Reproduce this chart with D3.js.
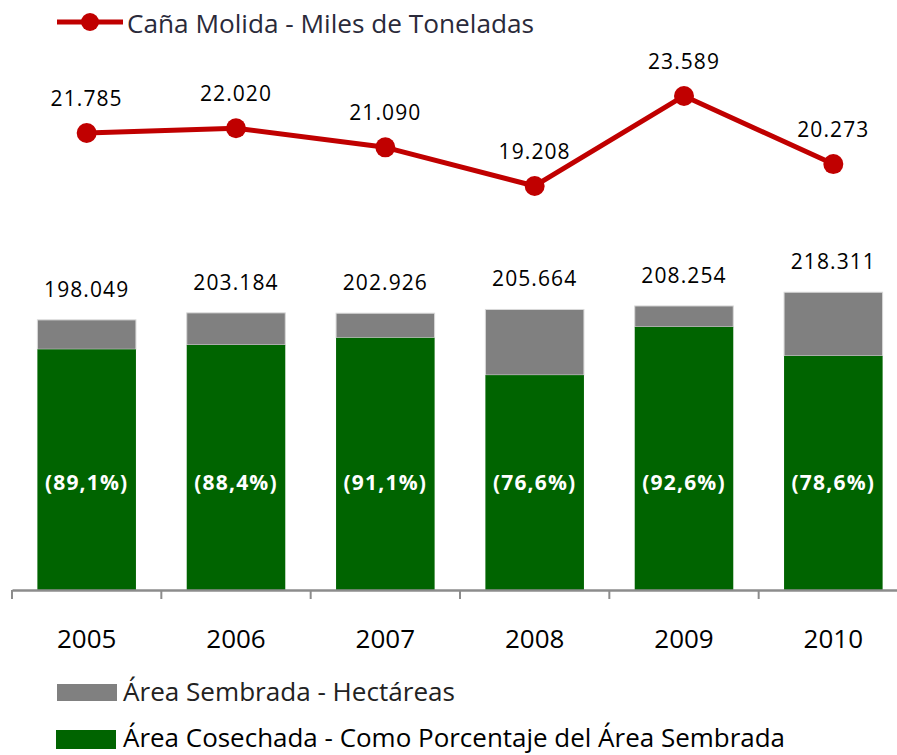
<!DOCTYPE html>
<html><head><meta charset="utf-8">
<script src="https://cdn.jsdelivr.net/npm/d3@7/dist/d3.min.js"></script>
<style>body{margin:0;background:#fff}svg{display:block}</style>
</head><body>
<svg id="chart" width="897" height="755"></svg>
<script>
const years = ["2005","2006","2007","2008","2009","2010"];
const areaSembrada = [198049, 203184, 202926, 205664, 208254, 218311];
const pctCosechada = [89.1, 88.4, 91.1, 76.6, 92.6, 78.6];
const canaMolida = [21785, 22020, 21090, 19208, 23589, 20273];
const legendLine = "Caña Molida - Miles de Toneladas";
const legendGray = "Área Sembrada - Hectáreas";
const legendGreen = "Área Cosechada - Como Porcentaje del Área Sembrada";

const fmt = v => d3.format(",")(v).replace(/,/g, ".");
const fmtPct = v => "(" + v.toFixed(1).replace(".", ",") + "%)";

const svg = d3.select("#chart");
const GREEN = "#006400", GRAY = "#808080", RED = "#C00000";
const font = "'Open Sans', sans-serif";

const x = d3.scaleBand().domain(years).range([12, 908]).padding(0);
const barW = x.bandwidth() * 0.66;
const yBar = d3.scaleLinear().domain([0, 250000]).range([590, 249]);
const yLine = d3.scaleLinear().domain([0, 25000]).range([580.5, 67]);

const data = years.map((y, i) => ({
  year: y, total: areaSembrada[i], pct: pctCosechada[i],
  harvested: areaSembrada[i] * pctCosechada[i] / 100, cane: canaMolida[i]
}));

// gray (sown area) bars
svg.append("g").selectAll("rect").data(data).join("rect")
  .attr("x", d => x(d.year) + (x.bandwidth() - barW) / 2)
  .attr("width", barW)
  .attr("y", d => yBar(d.total))
  .attr("height", d => yBar(d.harvested) - yBar(d.total))
  .attr("fill", GRAY).attr("stroke", "#d9d9d9").attr("stroke-width", 1);

// green (harvested) bars
svg.append("g").selectAll("rect").data(data).join("rect")
  .attr("x", d => x(d.year) + (x.bandwidth() - barW) / 2)
  .attr("width", barW)
  .attr("y", d => yBar(d.harvested))
  .attr("height", d => yBar(0) - yBar(d.harvested))
  .attr("fill", GREEN);

// axis
const axis = d3.axisBottom(x).tickSize(0).tickFormat(d => d).tickPadding(38);
const gAxis = svg.append("g").attr("transform", `translate(0,${yBar(0)})`).call(axis);
gAxis.select(".domain").attr("stroke", "#8c8c8c").attr("stroke-width", 2.5);
gAxis.selectAll(".tick text").attr("font-family", font).attr("font-size", 26).attr("fill", "#000")
  .attr("dy", "0.75em");
// category boundary ticks
svg.append("g").selectAll("line").data(years).join("line")
  .attr("x1", d => x(d)).attr("x2", d => x(d))
  .attr("y1", yBar(0)).attr("y2", yBar(0) + 9)
  .attr("stroke", "#8c8c8c").attr("stroke-width", 2);

// total labels
svg.append("g").selectAll("text").data(data).join("text")
  .attr("x", d => x(d.year) + x.bandwidth() / 2)
  .attr("y", d => yBar(d.total) - 23)
  .attr("text-anchor", "middle").attr("font-family", font).attr("font-size", 21)
  .attr("letter-spacing", 1.1).attr("fill", "#000")
  .text(d => fmt(d.total));

// percentage labels
svg.append("g").selectAll("text").data(data).join("text")
  .attr("x", d => x(d.year) + x.bandwidth() / 2)
  .attr("y", 490)
  .attr("text-anchor", "middle").attr("font-family", font).attr("font-size", 21)
  .attr("font-weight", "bold").attr("letter-spacing", 1.2).attr("fill", "#fff")
  .text(d => fmtPct(d.pct));

// line
const line = d3.line().x(d => x(d.year) + x.bandwidth() / 2).y(d => yLine(d.cane));
svg.append("path").datum(data).attr("d", line)
  .attr("fill", "none").attr("stroke", RED).attr("stroke-width", 5).attr("stroke-linejoin", "round");
svg.append("g").selectAll("circle").data(data).join("circle")
  .attr("cx", d => x(d.year) + x.bandwidth() / 2).attr("cy", d => yLine(d.cane))
  .attr("r", 10).attr("fill", RED);
svg.append("g").selectAll("text").data(data).join("text")
  .attr("x", d => x(d.year) + x.bandwidth() / 2)
  .attr("y", d => yLine(d.cane) - 27)
  .attr("text-anchor", "middle").attr("font-family", font).attr("font-size", 21)
  .attr("letter-spacing", 1.1).attr("fill", "#000")
  .text(d => fmt(d.cane));

// legends
const lg = svg.append("g");
lg.append("line").attr("x1", 57).attr("x2", 123).attr("y1", 22).attr("y2", 22)
  .attr("stroke", RED).attr("stroke-width", 5);
lg.append("circle").attr("cx", 90).attr("cy", 22).attr("r", 9).attr("fill", RED);
lg.append("text").attr("x", 127).attr("y", 33).attr("font-family", font).attr("font-size", 25)
  .attr("fill", "#2a2a3a").attr("textLength", 407).attr("lengthAdjust", "spacingAndGlyphs").text(legendLine);

lg.append("rect").attr("x", 57).attr("y", 684).attr("width", 60).attr("height", 17).attr("fill", GRAY);
lg.append("text").attr("x", 123).attr("y", 701).attr("font-family", font).attr("font-size", 26)
  .attr("fill", "#222").attr("textLength", 332).attr("lengthAdjust", "spacingAndGlyphs").text(legendGray);

lg.append("rect").attr("x", 56).attr("y", 730).attr("width", 60).attr("height", 19).attr("fill", GREEN);
lg.append("text").attr("x", 123).attr("y", 747).attr("font-family", font).attr("font-size", 25)
  .attr("fill", "#000").attr("textLength", 662).attr("lengthAdjust", "spacingAndGlyphs").text(legendGreen);
</script>
</body></html>
